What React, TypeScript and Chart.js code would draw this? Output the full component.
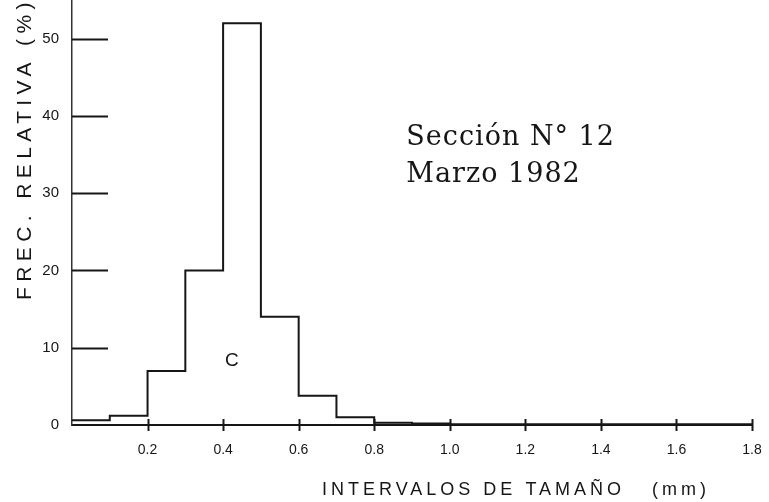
import React, { useEffect, useRef } from "react";
import { Chart, registerables } from "chart.js";

Chart.register(...registerables);

// Bin lower edges (mm) and relative frequency (%) of each 0.1 mm interval
const binEdges = [0, 0.1, 0.2, 0.3, 0.4, 0.5, 0.6, 0.7, 0.8, 0.9, 1.0, 1.1, 1.2, 1.3, 1.4, 1.5, 1.6, 1.7];
const freqValues = [0.6, 1.2, 7, 20, 52, 14, 3.8, 1, 0.3, 0.2, 0.1, 0.1, 0.1, 0.1, 0.1, 0.1, 0.1, 0.1];
const xMax = 1.8;
const yMax = 55;
const xTickValues = [0.2, 0.4, 0.6, 0.8, 1.0, 1.2, 1.4, 1.6, 1.8];
const yTickValues = [10, 20, 30, 40, 50];
const titleLine1 = "Sección N° 12";
const titleLine2 = "Marzo 1982";
const sampleLabel = "C";
const yTitle = "FREC. RELATIVA (%)";
const xTitle = "INTERVALOS DE TAMAÑO   (mm)";

const INK = "#161616";

const decorPlugin = {
  id: "decor",
  afterDraw(chart: any) {
    const { ctx, chartArea } = chart;
    const xs = chart.scales.x;
    const ys = chart.scales.y;
    ctx.save();
    ctx.strokeStyle = INK;
    ctx.lineWidth = 2;
    // inward y ticks
    yTickValues.forEach((v) => {
      const y = Math.round(ys.getPixelForValue(v)) + 0.5;
      ctx.beginPath();
      ctx.moveTo(chartArea.left, y);
      ctx.lineTo(chartArea.left + 36, y);
      ctx.stroke();
    });
    // crossing x ticks
    xTickValues.forEach((v) => {
      const x = Math.round(xs.getPixelForValue(v)) + 0.5;
      ctx.beginPath();
      ctx.moveTo(x, chartArea.bottom - 6);
      ctx.lineTo(x, chartArea.bottom + 6);
      ctx.stroke();
    });
    ctx.fillStyle = INK;
    // annotation text
    ctx.font = '27px "DejaVu Serif", serif';
    (ctx as any).letterSpacing = "1px";
    ctx.textAlign = "left";
    ctx.textBaseline = "alphabetic";
    ctx.fillText(titleLine1, xs.getPixelForValue(0.885), ys.getPixelForValue(36.2));
    ctx.fillText(titleLine2, xs.getPixelForValue(0.885), ys.getPixelForValue(31.4));
    (ctx as any).letterSpacing = "0px";
    ctx.font = '19px "Liberation Sans", Arial, sans-serif';
    ctx.textAlign = "center";
    ctx.textBaseline = "middle";
    ctx.fillText(sampleLabel, xs.getPixelForValue(0.423), ys.getPixelForValue(8.3));
    // y title
    ctx.save();
    ctx.translate(25, 300);
    ctx.rotate(-Math.PI / 2);
    ctx.font = '21px "Liberation Sans", Arial, sans-serif';
    (ctx as any).letterSpacing = "5.4px";
    ctx.textAlign = "left";
    ctx.textBaseline = "middle";
    ctx.fillText(yTitle, 0, 0);
    ctx.restore();
    // x title
    ctx.font = '18px "Liberation Sans", Arial, sans-serif';
    (ctx as any).letterSpacing = "4px";
    ctx.textAlign = "left";
    ctx.textBaseline = "middle";
    ctx.fillText(xTitle, 322, 490);
    ctx.restore();
  },
};

export default function App() {
  const ref = useRef<HTMLCanvasElement>(null);
  useEffect(() => {
    if (!ref.current) return;
    const points = binEdges.map((x, i) => ({ x, y: freqValues[i] }));
    points.push({ x: xMax, y: freqValues[freqValues.length - 1] });
    const chart = new Chart(ref.current, {
      type: "line",
      data: {
        datasets: [
          {
            data: points,
            stepped: "before",
            borderColor: INK,
            borderWidth: 2,
            pointRadius: 0,
            fill: false,
          } as any,
        ],
      },
      options: {
        animation: false,
        responsive: false,
        maintainAspectRatio: false,
        layout: { padding: { top: 0, right: 17, left: 0, bottom: 0 } },
        plugins: { legend: { display: false }, tooltip: { enabled: false } },
        scales: {
          x: {
            type: "linear",
            min: 0,
            max: xMax,
            grid: { display: false },
            border: { display: true, color: INK, width: 2 },
            ticks: {
              stepSize: 0.2,
              autoSkip: false,
              maxRotation: 0,
              padding: 9,
              color: INK,
              font: { family: '"Liberation Sans", Arial, sans-serif', size: 14 },
              callback: (v: any) => (Number(v) < 0.1 ? "" : Number(v).toFixed(1)),
            },
            afterFit: (s: any) => {
              s.height = 77;
              s.paddingLeft = 0;
              s.paddingRight = 0;
            },
          },
          y: {
            min: 0,
            max: yMax,
            grid: { display: false },
            border: { display: true, color: "#333", width: 1.5, dash: [7, 2] },
            ticks: {
              stepSize: 10,
              padding: 5,
              color: INK,
              font: { family: '"Liberation Sans", Arial, sans-serif', size: 15 },
              callback: (v: any) => (Number(v) % 10 === 0 ? String(v) : ""),
            },
            afterFit: (s: any) => {
              s.width = 72;
              s.paddingTop = 0;
              s.paddingBottom = 0;
            },
          },
        },
      },
      plugins: [decorPlugin],
    });
    return () => chart.destroy();
  }, []);
  return (
    <div style={{ position: "absolute", left: 0, top: 0, width: 769, height: 502, background: "#fff" }}>
      <canvas ref={ref} width={769} height={502} style={{ width: 769, height: 502 }} />
    </div>
  );
}
